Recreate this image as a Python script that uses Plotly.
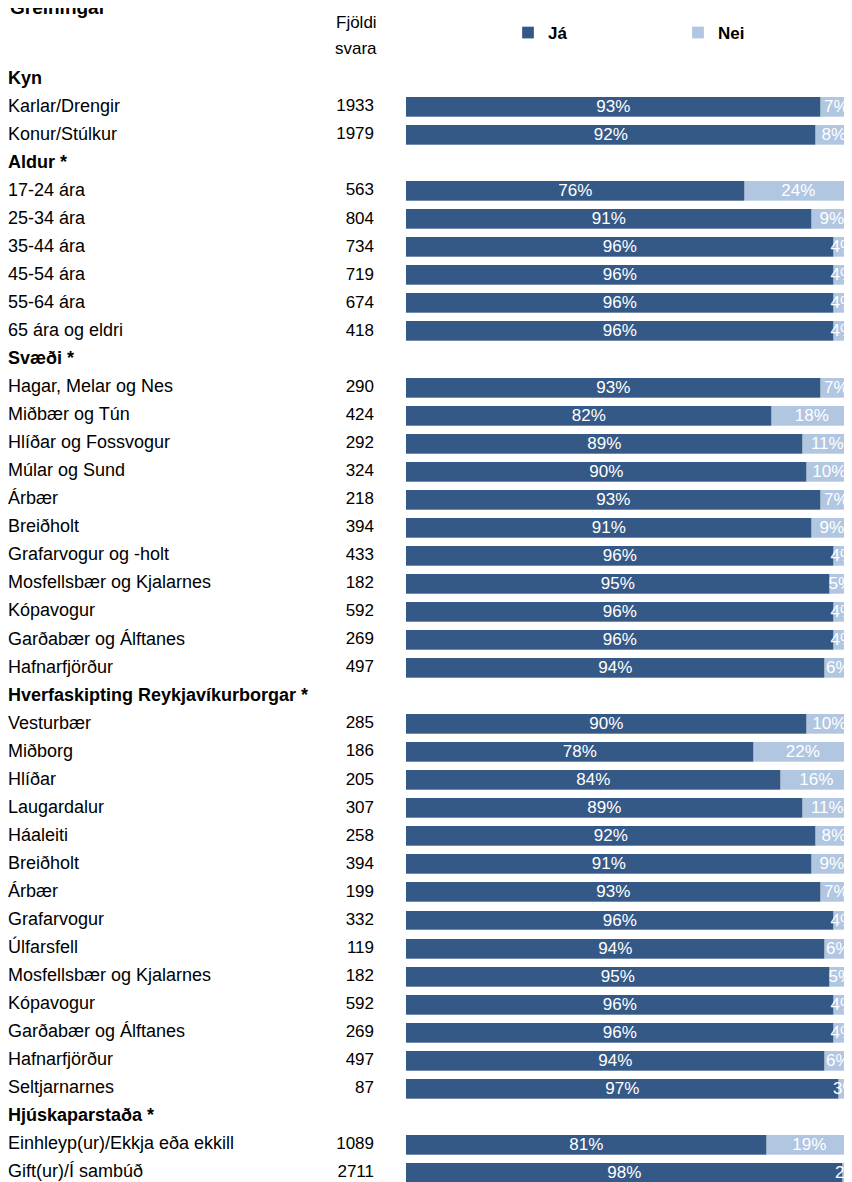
import plotly.graph_objects as go

# rows top to bottom; headers have no counts / values
labels = [
    "Kyn", "Karlar/Drengir", "Konur/Stúlkur",
    "Aldur *", "17-24 ára", "25-34 ára", "35-44 ára", "45-54 ára", "55-64 ára", "65 ára og eldri",
    "Svæði *", "Hagar, Melar og Nes", "Miðbær og Tún", "Hlíðar og Fossvogur", "Múlar og Sund",
    "Árbær", "Breiðholt", "Grafarvogur og -holt", "Mosfellsbær og Kjalarnes", "Kópavogur",
    "Garðabær og Álftanes", "Hafnarfjörður",
    "Hverfaskipting Reykjavíkurborgar *", "Vesturbær", "Miðborg", "Hlíðar", "Laugardalur",
    "Háaleiti", "Breiðholt", "Árbær", "Grafarvogur", "Úlfarsfell", "Mosfellsbær og Kjalarnes",
    "Kópavogur", "Garðabær og Álftanes", "Hafnarfjörður", "Seltjarnarnes",
    "Hjúskaparstaða *", "Einhleyp(ur)/Ekkja eða ekkill", "Gift(ur)/Í sambúð",
]
counts = [
    None, 1933, 1979,
    None, 563, 804, 734, 719, 674, 418,
    None, 290, 424, 292, 324, 218, 394, 433, 182, 592, 269, 497,
    None, 285, 186, 205, 307, 258, 394, 199, 332, 119, 182, 592, 269, 497, 87,
    None, 1089, 2711,
]
ja = [
    None, 93, 92,
    None, 76, 91, 96, 96, 96, 96,
    None, 93, 82, 89, 90, 93, 91, 96, 95, 96, 96, 94,
    None, 90, 78, 84, 89, 92, 91, 93, 96, 94, 95, 96, 96, 94, 97,
    None, 81, 98,
]
nei = [
    None, 7, 8,
    None, 24, 9, 4, 4, 4, 4,
    None, 7, 18, 11, 10, 7, 9, 4, 5, 4, 4, 6,
    None, 10, 22, 16, 11, 8, 9, 7, 4, 6, 5, 4, 4, 6, 3,
    None, 19, 2,
]

DARK = "#355987"
LIGHT = "#B1C6E1"
FONT = "Liberation Sans, Arial, sans-serif"

# the page body adds an 8px margin, so the figure is a bit smaller than the window
OFF = 8
W, H = 852 - OFF, 1182 - OFF
BAR_LEFT = 406 - OFF
rows = list(range(len(labels)))
is_header = [c is None for c in counts]

fig = go.Figure()

for name, vals, color in [("Já", ja, DARK), ("Nei", nei, LIGHT)]:
    fig.add_trace(
        go.Bar(
            y=rows,
            x=vals,
            orientation="h",
            name=f"<b>{name}</b>",
            marker=dict(color=color, line=dict(color="rgba(255,255,255,0.6)", width=0.5)),
            width=0.71,
            text=[f"{v}%" if v is not None else "" for v in vals],
            textposition="inside",
            insidetextanchor="middle",
            constraintext="none",
            textangle=0,
            textfont=dict(color="white", size=17, family=FONT),
            hoverinfo="skip",
        )
    )

# left-hand labels and counts, drawn on a pixel-scaled second x axis
fig.add_trace(
    go.Scatter(
        x=[8 - OFF] * len(labels),
        y=rows,
        xaxis="x2",
        mode="text",
        text=[f"<b>{l}</b>" if h else l for l, h in zip(labels, is_header)],
        textposition="middle right",
        textfont=dict(size=18, family=FONT, color="black"),
        showlegend=False,
        hoverinfo="skip",
        cliponaxis=False,
    )
)
fig.add_trace(
    go.Scatter(
        x=[374 - OFF] * len(labels),
        y=rows,
        xaxis="x2",
        mode="text",
        text=["" if c is None else str(c) for c in counts],
        textposition="middle left",
        textfont=dict(size=17, family=FONT, color="black"),
        showlegend=False,
        hoverinfo="skip",
        cliponaxis=False,
    )
)

pitch = 28.05
top_px = 79 - OFF  # centre of the first row
fig.update_layout(
    width=W,
    height=H,
    margin=dict(l=0, r=0, t=0, b=0, autoexpand=False),
    barmode="stack",
    bargap=0,
    plot_bgcolor="white",
    paper_bgcolor="white",
    font=dict(family=FONT, size=17, color="black"),
    xaxis=dict(domain=[BAR_LEFT / W, 1], range=[0, 100], visible=False, fixedrange=True),
    xaxis2=dict(domain=[0, BAR_LEFT / W], range=[0, BAR_LEFT], visible=False, anchor="y", fixedrange=True),
    yaxis=dict(
        range=[(H - top_px) / pitch, -top_px / pitch],
        visible=False,
        fixedrange=True,
    ),
    legend=dict(
        orientation="h",
        traceorder="normal",
        x=(508 - OFF) / W,
        xanchor="left",
        y=1 - (15 - OFF) / H,
        yanchor="top",
        entrywidth=125,
        entrywidthmode="pixels",
        font=dict(size=17, family=FONT),
        itemclick=False,
        bgcolor="rgba(0,0,0,0)",
    ),
    annotations=[
        dict(text="<b>Greiningar</b>", x=(8 - OFF) / W, y=1 - (20 - OFF) / H, xref="paper", yref="paper",
             xanchor="left", yanchor="bottom", showarrow=False, font=dict(size=19)),
        dict(text="Fjöldi", x=(356 - OFF) / W, y=1 - (23 - OFF) / H, xref="paper", yref="paper",
             xanchor="center", yanchor="middle", showarrow=False, font=dict(size=17)),
        dict(text="svara", x=(356 - OFF) / W, y=1 - (48 - OFF) / H, xref="paper", yref="paper",
             xanchor="center", yanchor="middle", showarrow=False, font=dict(size=17)),
    ],
)

fig.write_html("out.html")
